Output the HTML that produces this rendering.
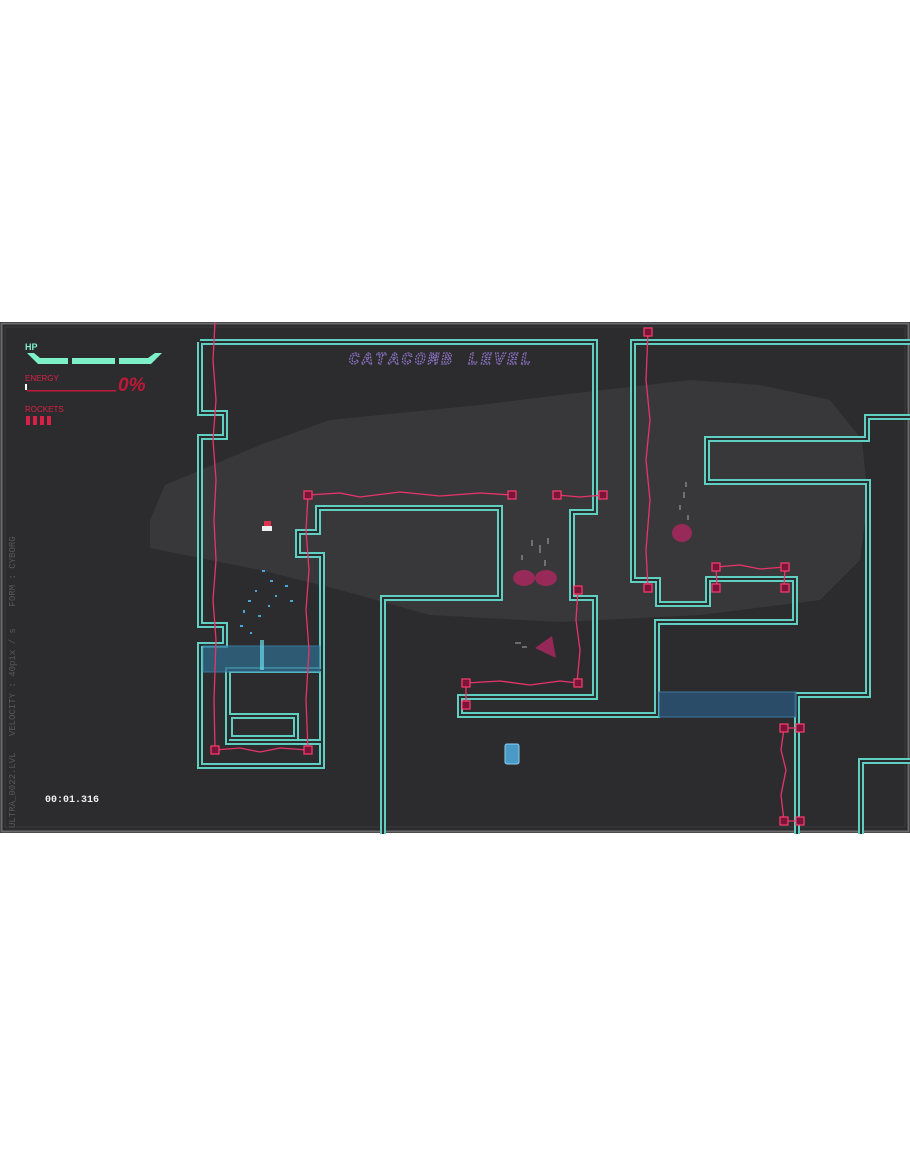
<!DOCTYPE html>
<html><head><meta charset="utf-8"><style>
html,body{margin:0;padding:0;background:#fff;width:910px;height:1155px;overflow:hidden}
svg{position:absolute;left:0;top:0}
</style></head><body>
<svg width="910" height="1155" viewBox="0 0 910 1155" xmlns="http://www.w3.org/2000/svg">
<rect x="0" y="322" width="910" height="511" fill="#2c2c2e"/>
<rect x="1.5" y="323.5" width="907" height="508" fill="none" stroke="#6a6a6c" stroke-width="2"/>
<rect x="5" y="327" width="900" height="500" fill="none" stroke="#3a3a3c" stroke-width="1"/>
<!-- lighter shadow blob -->
<path d="M150,520 L165,485 L260,445 L330,420 L480,405 L560,395 L690,380 L760,385 L830,400 L862,440 L868,500 L860,560 L820,600 L700,615 L560,622 L430,615 L340,590 L260,570 L150,548 Z" fill="#38383a"/>
<g fill="none" stroke-linejoin="miter">
<g stroke="#5fcfc2" stroke-width="6">
<polyline points="200,342 200,413 225,413 225,437 200,437 200,625 225,625 225,645 200,645 200,766 322,766 322,555 298,555 298,532 318,532 318,508 500,508 500,598 383,598 383,834"/>
<polyline points="200,342 595,342 595,512 572,512 572,598 595,598 595,697 460,697 460,715 657,715 657,622 795,622 795,579 708,579 708,604 658,604 658,580 633,580 633,342 912,342"/>
<polyline points="797,834 797,695 868,695 868,482 707,482 707,439 867,439 867,417 912,417"/>
<polyline points="861,834 861,761 912,761"/>
<rect x="228" y="670" width="94" height="72"/>
<rect x="230" y="716" width="66" height="22"/>
</g>
<g stroke="#2c2c2e" stroke-width="2">
<polyline points="200,342 200,413 225,413 225,437 200,437 200,625 225,625 225,645 200,645 200,766 322,766 322,555 298,555 298,532 318,532 318,508 500,508 500,598 383,598 383,834"/>
<polyline points="200,342 595,342 595,512 572,512 572,598 595,598 595,697 460,697 460,715 657,715 657,622 795,622 795,579 708,579 708,604 658,604 658,580 633,580 633,342 912,342"/>
<polyline points="797,834 797,695 868,695 868,482 707,482 707,439 867,439 867,417 912,417"/>
<polyline points="861,834 861,761 912,761"/>
<rect x="228" y="670" width="94" height="72"/>
<rect x="230" y="716" width="66" height="22"/>
</g>
</g>
<!-- water -->
<rect x="203" y="646" width="117" height="26" fill="#2f6a8a" opacity="0.75" stroke="#3a90c0" stroke-width="1"/>
<rect x="659" y="692" width="137" height="25" fill="#2a5070" opacity="0.9" stroke="#3a80b0" stroke-width="1"/>
<!-- lasers -->
<g fill="none" stroke="#e8346a" stroke-width="1.3">
<path d="M215,322 L213,360 L216,400 L213,440 L216,480 L214,520 L216,560 L213,600 L216,640 L214,700 L215,750"/>
<path d="M308,495 L306,530 L309,570 L306,610 L309,650 L306,700 L308,750"/>
<path d="M215,750 L240,748 L260,752 L280,748 L308,750"/>
<path d="M308,495 L340,493 L360,497 L400,492 L440,496 L480,493 L512,495"/>
<path d="M557,495 L580,497 L603,495"/>
<path d="M578,590 L576,620 L580,650 L577,683"/>
<path d="M466,683 L500,681 L530,685 L560,681 L578,683"/>
<path d="M466,683 L466,705"/>
<path d="M648,332 L646,380 L650,420 L646,460 L650,500 L646,550 L648,588"/>
<path d="M716,567 L740,565 L760,569 L785,567"/>
<path d="M716,567 L717,588 M785,567 L784,588"/>
<path d="M784,728 L781,750 L786,770 L781,795 L784,821"/>
<path d="M784,728 L800,728 M784,821 L800,821"/>
</g>
<g fill="#7a1438" stroke="#ff3c70" stroke-width="1.2">
<rect x="644" y="328" width="8" height="8"/><rect x="644" y="584" width="8" height="8"/>
<rect x="304" y="491" width="8" height="8"/><rect x="508" y="491" width="8" height="8"/>
<rect x="553" y="491" width="8" height="8"/><rect x="599" y="491" width="8" height="8"/>
<rect x="574" y="586" width="8" height="8"/><rect x="574" y="679" width="8" height="8"/>
<rect x="462" y="679" width="8" height="8"/><rect x="462" y="701" width="8" height="8"/>
<rect x="211" y="746" width="8" height="8"/><rect x="304" y="746" width="8" height="8"/>
<rect x="712" y="563" width="8" height="8"/><rect x="781" y="563" width="8" height="8"/>
<rect x="712" y="584" width="8" height="8"/><rect x="781" y="584" width="8" height="8"/>
<rect x="780" y="724" width="8" height="8"/><rect x="796" y="724" width="8" height="8"/>
<rect x="780" y="817" width="8" height="8"/><rect x="796" y="817" width="8" height="8"/>
</g>
<!-- enemies -->
<g fill="#a8285e" opacity="0.85">
<ellipse cx="524" cy="578" rx="11" ry="8"/><ellipse cx="546" cy="578" rx="11" ry="8"/>
<path d="M535,648 L552,636 L556,658 Z"/>
<ellipse cx="682" cy="533" rx="10" ry="9"/>
</g>
<g stroke="#aaa" stroke-width="1">
<path d="M532,540 v6 M540,545 v8 M548,538 v6 M522,555 v5 M545,560 v6 M686,482 v5 M684,492 v6 M680,505 v5 M688,515 v5 M515,643 h6 M522,647 h5"/>
</g>
<!-- player -->
<rect x="264" y="521" width="7" height="5" fill="#e03050"/><rect x="262" y="526" width="10" height="5" fill="#eee"/>
<!-- particles -->
<g fill="#4aa8d8">
<rect x="262" y="570" width="3" height="2"/><rect x="270" y="580" width="3" height="2"/><rect x="255" y="590" width="2" height="2"/>
<rect x="248" y="600" width="3" height="2"/><rect x="275" y="595" width="2" height="2"/><rect x="243" y="610" width="2" height="3"/>
<rect x="258" y="615" width="3" height="2"/><rect x="268" y="605" width="2" height="2"/><rect x="285" y="585" width="3" height="2"/>
<rect x="240" y="625" width="3" height="2"/><rect x="250" y="632" width="2" height="2"/><rect x="290" y="600" width="3" height="2"/>
<rect x="260" y="640" width="4" height="30" fill="#6ad8e8" opacity="0.7"/>
</g>
<!-- canister -->
<rect x="505" y="744" width="14" height="20" rx="2" fill="#4a9ac8" stroke="#8ad0f0"/>
<!-- HUD -->
<text x="25" y="350" font-family="Liberation Sans,sans-serif" font-size="9" font-weight="bold" fill="#7ef0c8">HP</text>
<g fill="#7ef0c8">
<path d="M27,353 L34,353 L40,358 L68,358 L68,364 L38,364 Z"/>
<rect x="72" y="358" width="43" height="6"/>
<path d="M119,358 L148,358 L155,353 L162,353 L151,364 L119,364 Z"/>
</g>
<text x="25" y="381" font-family="Liberation Sans,sans-serif" font-size="8" fill="#d82048">ENERGY</text>
<rect x="25" y="384" width="2" height="6" fill="#fff"/>
<rect x="27" y="390" width="89" height="1.5" fill="#c0183c"/>
<text x="118" y="391" font-family="Liberation Sans,sans-serif" font-size="19" font-weight="bold" font-style="italic" fill="#c01838">0%</text>
<text x="25" y="412" font-family="Liberation Sans,sans-serif" font-size="8" fill="#d82048">ROCKETS</text>
<g fill="#d82048"><rect x="26" y="416" width="4" height="9"/><rect x="33" y="416" width="4" height="9"/><rect x="40" y="416" width="4" height="9"/><rect x="47" y="416" width="4" height="9"/></g>
<text x="349" y="364" font-family="Liberation Mono,monospace" font-size="17" font-weight="bold" font-style="italic" letter-spacing="3" fill="none" stroke="#8a70c0" stroke-width="1.2" stroke-dasharray="2 1">CATACOMB  LEVEL</text>
<text transform="translate(15,828) rotate(-90)" font-family="Liberation Mono,monospace" font-size="9" fill="#58585a" xml:space="preserve">ULTRA_0022.LVL   VELOCITY : 40pix / s    FORM : CYBORG</text>
<text x="45" y="802" font-family="Liberation Mono,monospace" font-size="10" font-weight="bold" fill="#f0f0f0">00:01.316</text>
</svg>
</body></html>
